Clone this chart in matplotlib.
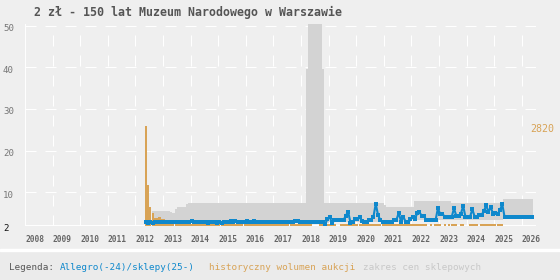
import numpy as np
import matplotlib.pyplot as plt
from matplotlib.patches import Rectangle
from matplotlib.transforms import ScaledTranslation

# month index 0 = Jan 2012
years = list(range(2008, 2027))

# Allegro(-24)/sklepy(25-), monthly from May 2012 to May 2026
blue_start = 4
blue = (
    [2.9, 2.7, 2.9, 2.7, 2.8, 2.8, 2.8, 2.8]                                # 2012
    + [2.8, 2.8, 2.8, 2.8, 2.8, 2.8, 2.8, 2.8, 2.8, 2.8, 2.8, 2.8]          # 2013
    + [3.1, 2.8, 2.8, 2.8, 2.8, 2.8, 2.8, 2.5, 2.8, 2.8, 2.8, 2.5]          # 2014
    + [2.8, 2.5, 2.8, 2.8, 2.8, 3.1, 2.8, 3.1, 2.8, 2.8, 2.8, 2.8]          # 2015
    + [3.1, 2.8, 2.8, 3.1, 2.8, 2.8, 2.8, 2.8, 2.8, 2.8, 2.8, 2.8]          # 2016
    + [2.8, 2.8, 2.8, 2.8, 2.8, 2.8, 2.8, 2.8, 2.8, 3.1, 3.1, 2.8]          # 2017
    + [2.8, 2.8, 2.8, 2.8, 2.8, 2.8, 2.8, 2.8, 2.8, 2.8, 2.4, 3.5]          # 2018
    + [4.1, 2.5, 3.3, 3.3, 3.3, 3.3, 3.3, 4.4, 5.3, 2.7, 2.9, 3.5]          # 2019
    + [3.5, 4.0, 3.1, 2.8, 2.8, 3.3, 3.3, 4.1, 7.2, 4.5, 3.3, 2.8]          # 2020
    + [2.8, 2.9, 2.9, 2.9, 3.3, 3.3, 5.1, 2.9, 4.1, 2.9, 2.9, 3.5]          # 2021
    + [4.1, 3.5, 4.9, 5.2, 4.3, 4.3, 3.25, 3.25, 3.25, 3.25, 3.25, 6.1]    # 2022
    + [4.8, 4.8, 4.1, 4.1, 4.0, 4.0, 6.1, 4.4, 4.4, 4.8, 6.7, 4.1]          # 2023
    + [4.1, 4.1, 5.9, 4.1, 4.1, 4.6, 4.6, 5.4, 6.9, 5.2, 6.5, 4.7]          # 2024
    + [5.0, 4.8, 5.7, 7.1, 4.1, 4.1, 4.1, 4.1, 4.1, 4.1, 4.1, 4.1]          # 2025
    + [4.1, 4.1, 4.1, 4.1, 4.1]                                             # 2026
)

# historyczny wolumen aukcji (top of bar, 0 = no sales), May 2012 .. Apr 2025
orange_start = 4
orange = (
    [26.0, 11.7, 6.4, 5.0, 3.8, 3.8, 4.0, 3.6]
    + [3.6, 2.45, 2.45, 2.45, 2.45, 2.45, 2.45, 2.45, 2.45, 2.45, 2.45, 2.45]
    + [2.45, 2.45, 2.45, 2.45, 2.45, 2.45, 2.45, 2.45, 2.45, 2.45, 2.45, 2.45]
    + [2.45, 2.45, 2.45, 2.45, 2.45, 2.45, 2.45, 2.45, 2.45, 2.45, 2.45, 2.45]
    + [2.45, 2.45, 2.45, 2.45, 2.45, 2.45, 2.45, 2.45, 2.45, 2.45, 2.45, 2.45]
    + [2.45, 2.45, 2.45, 2.45, 2.45, 2.45, 2.45, 2.45, 2.45, 2.45, 2.45, 2.45]
    + [2.45, 2.45, 2.45, 2.45, 2.45, 0, 0, 0, 2.45, 2.45, 2.45, 2.45]
    + [2.45, 2.45, 2.45, 0, 0, 2.45, 2.45, 2.45, 2.45, 2.45, 2.45, 2.45]
    + [2.45, 2.45, 2.45, 2.45, 2.45, 2.45, 2.45, 2.45, 2.45, 2.45, 2.45, 2.45]
    + [2.45, 2.45, 2.45, 2.45, 2.45, 2.45, 2.45, 2.45, 2.45, 2.45, 2.45, 2.45]
    + [2.45, 2.45, 2.45, 2.45, 2.45, 2.45, 2.45, 0, 2.45, 0, 2.45, 2.45]
    + [2.45, 0, 2.45, 0, 2.45, 2.45, 2.45, 2.45, 0, 2.45, 2.45, 0]
    + [0, 2.45, 2.45, 2.45, 2.45, 0, 2.45, 2.45, 2.45, 2.45, 2.45, 2.45]
    + [2.45, 2.45, 2.45, 2.45]
)

# zakres cen sklepowych, Aug 2012 .. May 2026
gray_start = 7
gray_hi = (
    [5.5, 5.5, 5.5, 5.5, 5.5]
    + [5.5, 5.5, 5.5, 5.2, 5.0, 6.0, 6.4, 6.4, 6.4, 6.4, 7.2, 7.4]
    + [7.4, 7.4, 7.4, 7.4, 7.4, 7.4, 7.4, 7.4, 7.4, 7.4, 7.4, 7.4]
    + [7.4, 7.4, 7.4, 7.4, 7.4, 7.4, 7.4, 7.4, 7.4, 7.4, 7.4, 7.4]
    + [7.4, 7.4, 7.4, 7.4, 7.4, 7.4, 7.4, 7.4, 7.4, 7.4, 7.4, 7.4]
    + [7.4, 7.4, 7.4, 7.4, 7.4, 7.4, 7.4, 7.4, 7.4, 7.4, 7.4, 7.4]
    + [7.4, 7.4, 39.6, 60, 60, 60, 60, 60, 60, 39.6, 7.5, 7.5]
    + [7.5, 7.5, 7.5, 7.5, 7.5, 7.5, 7.5, 7.5, 7.5, 7.5, 7.5, 7.5]
    + [7.5, 7.5, 7.5, 7.5, 7.5, 7.5, 7.5, 7.5, 7.5, 7.5, 7.5, 7.5]
    + [7.0, 6.5, 6.5, 6.5, 6.5, 6.5, 6.5, 6.5, 6.5, 6.5, 6.5, 6.5]
    + [6.5, 7.9, 7.9, 7.9, 7.9, 7.9, 7.9, 7.9, 7.9, 7.9, 7.9, 7.9]
    + [7.9, 7.9, 7.9, 7.9, 7.9, 7.4, 7.4, 7.4, 7.4, 7.4, 7.4, 7.4]
    + [7.4, 7.4, 7.4, 7.4, 7.4, 7.4, 7.4, 7.4, 7.4, 7.4, 7.4, 7.4]
    + [7.4, 7.4, 7.4, 7.4, 8.4, 8.4, 8.4, 8.4, 8.4, 8.4, 8.4, 8.4]
    + [8.4, 8.4, 8.4, 8.4, 8.4]
)
gray_lo = (
    [2.6] * 5 + [2.6] * 72 + [2.8] * 36 + [3.3] * 40 + [4.1] * 13
)

BG = '#efefef'
BLUE = '#0f88cc'
ORANGE = '#d8a356'
GRAY = '#d3d3d3'
MONO = 'DejaVu Sans Mono'

fig = plt.figure(figsize=(5.6, 2.8), dpi=100, facecolor=BG)
ax = fig.add_axes([25 / 560, 1 - 225.5 / 280, 510.6 / 560, 201.5 / 280])
ax.set_facecolor(BG)
ax.set_xlim(2008, 2026.5)
ax.set_ylim(2, 50.36)
for s in ax.spines.values():
    s.set_visible(False)
ax.set_xticks([])
ax.set_yticks([])

# grid
for y in [10, 20, 30, 40, 50]:
    ax.axhline(y, color='white', lw=0.72, ls=(0, (11, 9)), zorder=1)
ax.axhline(2, color='white', lw=1.4, zorder=1)
ax.axvline(2008, color='white', lw=1.4, zorder=1)
for yr in years[1:]:
    ax.plot([yr, yr], [49.9, 2], color='white', lw=0.72, ls=(11, (11, 9)), zorder=1)

# shop price range
t_gray = 2012 + (gray_start + np.arange(len(gray_hi) + 1)) / 12
ax.stairs(gray_hi, t_gray, baseline=gray_lo, fill=True, color=GRAY, lw=0, zorder=2)

# auction volume
t_or = 2012 + (orange_start + np.arange(len(orange))) / 12
o = np.array(orange)
m = o > 0
ax.bar(t_or[m], o[m] - 2, width=1 / 12, bottom=2, align='edge', color=ORANGE, lw=0, zorder=3)

# Allegro / shops
t_bl = 2012 + (blue_start + np.arange(len(blue))) / 12 + 1 / 24
ax.plot(t_bl, blue, color=BLUE, lw=1.5, marker='s', ms=2.3, mew=0, zorder=4,
        solid_joinstyle='miter')

# labels
for v in [50, 40, 30, 20, 10, 2]:
    y_fig = ax.transData.transform((2008, v))[1] / 280 - 3 / 280
    fig.text(3 / 560, y_fig, str(v), ha='left', va='center', family=MONO,
             fontsize=6.6, color='#111' if v == 2 else '#777')
off = ScaledTranslation(0, -14 / 100, fig.dpi_scale_trans)
for yr in years:
    ax.text(yr, 2, str(yr), ha='left', va='center', family=MONO, fontsize=5.7,
            fontweight='bold', color='#666', transform=ax.transData + off)

fig.text(188.5 / 560, 1 - 12 / 280, '2 zł - 150 lat Muzeum Narodowego w Warszawie',
         ha='center', va='center', family=MONO, fontsize=8.4, fontweight='bold', color='#555')
fig.text(554 / 560, 1 - 129 / 280, '2820', ha='right', va='center', family=MONO,
         fontsize=7.2, color=ORANGE)

# legend band
fig.patches.append(Rectangle((0, 0), 1, 30 / 280, transform=fig.transFigure, color='#ebebeb', zorder=0))
fig.patches.append(Rectangle((0, 29 / 280), 1, 2 / 280, transform=fig.transFigure, color='white', zorder=0))
ly = 1 - 267 / 280
fig.text(9 / 560, ly, 'Legenda:', ha='left', va='center', family=MONO, fontsize=6.7, color='#555')
fig.text(60 / 560, ly, 'Allegro(-24)/sklepy(25-)', ha='left', va='center', family=MONO, fontsize=6.7, color=BLUE)
fig.text(209 / 560, ly, 'historyczny wolumen aukcji', ha='left', va='center', family=MONO, fontsize=6.7, color=ORANGE)
fig.text(363 / 560, ly, 'zakres cen sklepowych', ha='left', va='center', family=MONO, fontsize=6.7, color='#c8c8c8')

fig.savefig('out.png', dpi=100, facecolor=BG)
